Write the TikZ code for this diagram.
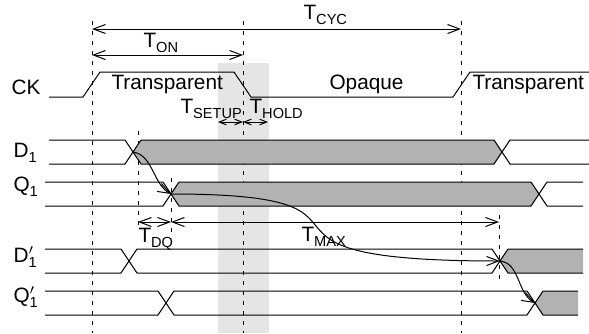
\documentclass[tikz,border=0pt]{standalone}
\usepackage{fontspec}
\setmainfont{Liberation Sans}
\usetikzlibrary{arrows.meta}
\newcommand{\subtxt}[1]{\raisebox{-2.5pt}{\fontsize{7.3}{7.3}\selectfont #1}}

\begin{document}
\begin{tikzpicture}[x=0.5pt,y=-0.5pt,line width=0.5pt,
  >={Straight Barb[length=6pt,width=4.5pt]},
  small/.style={>={Straight Barb[length=3.5pt,width=2.8pt]}},
  guide/.style={dash pattern=on 2pt off 3pt},
  bus/.style={fill=black!30},
  lbl/.style={anchor=base west,inner sep=0pt,font=\fontsize{10.4}{12}\selectfont}]
\useasboundingbox (0,0) rectangle (589,333);

% setup / hold window
\fill[black!10] (218,63) rectangle (269,333);

% time marks
\coordinate (cyc0) at (92,29);  \coordinate (cyc1) at (461,29);
\coordinate (on0) at (92,55);   \coordinate (on1) at (243,55);
\coordinate (su0) at (218,122); \coordinate (su1) at (243,122);
\coordinate (ho1) at (268,122);
\coordinate (dq0) at (138,222); \coordinate (dq1) at (171,222);
\coordinate (mx1) at (499,222);

\draw[guide] (92,21) -- (92,333);
\draw[guide] (243,21) -- (243,333);
\draw[guide] (461,21) -- (461,333);
\draw[guide] (138,131) -- (138,227);
\draw[guide] (171,178) -- (171,238);
\draw[guide] (499,215) -- (499,283);

% clock
\draw (49,97) -- (83,97) -- (100,72) -- (234,72) -- (251,97) -- (453,97) -- (470,72) -- (589,72);

% D1
\fill[bus] (133,152) -- (141,140) -- (494,140) -- (502,152) -- (494,164) -- (141,164) -- cycle;
\draw (49,140) -- (125,140) -- (141,164) -- (494,164) -- (510,140) -- (589,140);
\draw (49,164) -- (125,164) -- (141,140) -- (494,140) -- (510,164) -- (589,164);

% Q1
\fill[bus] (171,194) -- (179,182) -- (531,182) -- (539,194) -- (531,206) -- (179,206) -- cycle;
\draw (45,182) -- (163,182) -- (179,206) -- (531,206) -- (547,182) -- (583,182);
\draw (45,206) -- (163,206) -- (179,182) -- (531,182) -- (547,206) -- (583,206);

% D1'
\fill[bus] (500,261) -- (508,249) -- (583,249) -- (583,273) -- (508,273) -- cycle;
\draw (45,249) -- (121,249) -- (137,273) -- (492,273) -- (508,249) -- (583,249);
\draw (45,273) -- (121,273) -- (137,249) -- (492,249) -- (508,273) -- (583,273);

% Q1'
\fill[bus] (535,303) -- (543,291) -- (578,291) -- (578,315) -- (543,315) -- cycle;
\draw (45,291) -- (158,291) -- (174,315) -- (527,315) -- (543,291) -- (578,291);
\draw (45,315) -- (158,315) -- (174,291) -- (527,291) -- (543,315) -- (578,315);

% crossings
\coordinate (d1x) at (133,152);
\coordinate (q1x) at (171,194);
\coordinate (d1px) at (500,261);
\coordinate (q1px) at (535,303);

% dimensions
\draw[<->] (cyc0) -- (cyc1);
\draw[<->] (on0) -- (on1);
\draw[<->,small] (su0) -- (su1);
\draw[<->,small] (su1) -- (ho1);
\draw[<->] (dq0) -- (dq1);
\draw[<->] (dq1) -- (mx1);

% causality
\draw[->] (d1x) .. controls +(20,3) and +(-18,-10) .. (q1x);
\draw[->] (q1x) .. controls +(248,0) and +(-296,0) .. (d1px);
\draw[->] (d1px) .. controls +(20,2) and +(-18,-10) .. (q1px);

% labels
\node[lbl] (ck) at (11,94) {CK};
\node[lbl] (d1) at (13,157) {D\subtxt{1}};
\node[lbl] (q1) at (13,191) {Q\subtxt{1}};
\node[lbl] (d1p) at (13,262) {D\rlap{$'$}\subtxt{1}};
\node[lbl] (q1p) at (13,302) {Q\rlap{$'$}\subtxt{1}};

\node[lbl] (tcyc) at (303,19) {T\subtxt{CYC}};
\node[lbl] (ton) at (143,47) {T\subtxt{ON}};
\node[lbl] (tsetup) at (180,113) {T\subtxt{SETUP}};
\node[lbl] (thold) at (249,113) {T\subtxt{HOLD}};
\node[lbl] (tdq) at (138,242) {T\subtxt{DQ}};
\node[lbl] (tmax) at (301,241) {T\subtxt{MAX}};

\node[lbl] (tr1) at (111,89) {Transparent};
\node[lbl] (opq) at (329,89) {Opaque};
\node[lbl] (tr2) at (472,89) {Transparent};
\end{tikzpicture}
\end{document}
